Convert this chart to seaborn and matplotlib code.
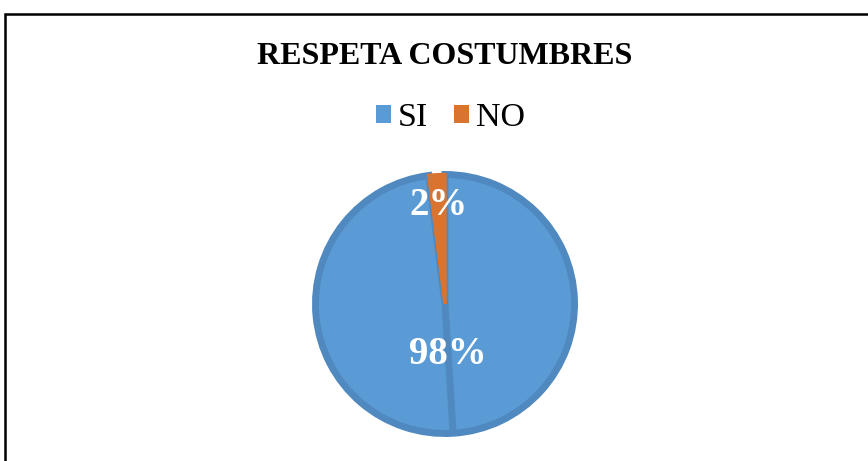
import numpy as np
import matplotlib
matplotlib.use("Agg")
import matplotlib.pyplot as plt
import matplotlib.patches as mpatches
import seaborn as sns

# Data
categories = ["SI", "NO"]
values = [98, 2]
colors = ["#5B9BD5", "#D97330"]
edge_colors = ["#4F89BF", "#D97330"]
edge_widths = [5.0, 2.5]
label_dist = [0.39, 0.76]
title = "RESPETA COSTUMBRES"

sns.set_theme(style="white")
plt.rcParams["font.family"] = ["Liberation Serif", "DejaVu Serif"]
plt.rcParams["text.color"] = "black"

fig = plt.figure(figsize=(8.68, 4.61), dpi=100)
fig.patch.set_facecolor("white")

# Pie axes: centre ~ (445, 304) px, radius ~ 133 px
cx, cy, r = 445 / 868, (461 - 304) / 461, 133
ax = fig.add_axes([cx - r / 868, cy - r / 461, 2 * r / 868, 2 * r / 461])

wedges, texts, autotexts = ax.pie(
    values,
    colors=colors,
    startangle=90,
    counterclock=False,
    autopct=lambda p: f"{p:.0f}%",
    textprops={"color": "white", "fontsize": 28, "fontweight": "bold"},
)

for w, ec, lw in zip(wedges, edge_colors, edge_widths):
    w.set_edgecolor(ec)
    w.set_linewidth(lw)
    w.set_joinstyle("miter")

# Excel draws a divider at the mid angle of the big slice
w0 = wedges[0]
mid = np.deg2rad((w0.theta1 + w0.theta2) / 2)
ax.plot([0, np.cos(mid)], [0, np.sin(mid)], color=edge_colors[0], lw=5.0,
        solid_capstyle="butt", zorder=w0.get_zorder() + 0.5)

# Place percentage labels
for w, t, d in zip(wedges, autotexts, label_dist):
    ang = np.deg2rad((w.theta1 + w.theta2) / 2)
    t.set_position((d * np.cos(ang), d * np.sin(ang)))
    t.set_zorder(5)

lim = 133 / 129.5
ax.set_xlim(-lim, lim)
ax.set_ylim(-lim, lim)
ax.set_aspect("equal")
ax.axis("off")

# Title
fig.text(cx, 1 - 56 / 461, title, ha="center", va="center",
         fontsize=23, fontweight="bold", color="black")

# Legend
handles = [mpatches.Patch(facecolor=c, edgecolor="none") for c in colors]
fig.legend(handles, categories, loc="center", ncol=2,
           bbox_to_anchor=(cx + 0.006, 1 - 118 / 461), frameon=False,
           fontsize=24.5, handlelength=0.45, handleheight=0.45,
           handletextpad=0.2, columnspacing=0.75, labelcolor="black")

# Chart frame (partially cropped on right and bottom)
frame = mpatches.Rectangle((5 / 868, -0.1), 1.2, (461 - 14) / 461 + 0.1,
                           transform=fig.transFigure, fill=False,
                           edgecolor="black", linewidth=1.8)
fig.patches.append(frame)

fig.savefig("out.png", dpi=100)
